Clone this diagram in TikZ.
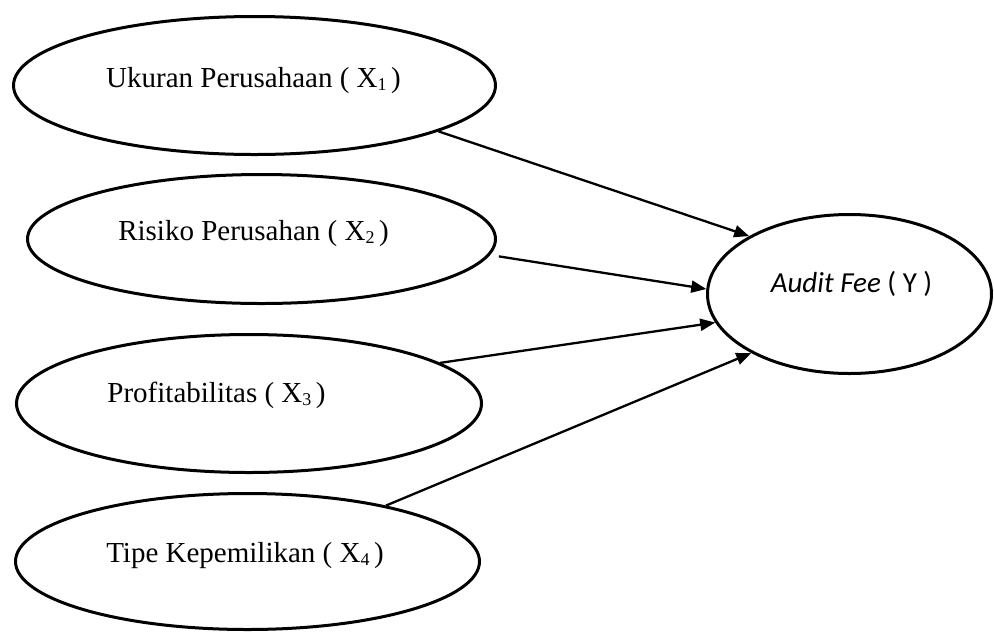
\documentclass[tikz,border=0pt]{standalone}
\usepackage{fontspec}
\setmainfont{Liberation Serif}
\newfontfamily\calibri{Carlito}
\usetikzlibrary{shapes.geometric, arrows.meta}

\newcommand{\xsub}[1]{\raisebox{-3pt}{\fontsize{18}{18}\selectfont #1 }}

\begin{document}
\begin{tikzpicture} [x=1pt, y=-1pt,
        var/.style = {ellipse, draw, line width=3pt, inner sep=0pt},
        lbl/.style = {anchor=base, inner sep=0pt, font=\fontsize{29}{34}\selectfont}]
        \useasboundingbox (0,0) rectangle (994,633);

        \node (x1) [var, minimum width=482pt, minimum height=138pt] at (254.5,85.5) {};
        \node (x2) [var, minimum width=468pt, minimum height=129pt] at (261.5,239) {};
        \node (x3) [var, minimum width=465pt, minimum height=138pt] at (249,403.5) {};
        \node (x4) [var, minimum width=464pt, minimum height=136pt] at (247.5,561.5) {};
        \node (y) [var, minimum width=284pt, minimum height=159pt] at (849.5,294) {};

        \node (t1) [lbl] at ([shift={(-1,1.5)}]x1.center) {Ukuran Perusahaan ( X\xsub{1})};
        \node (t2) [lbl] at ([shift={(-8,1.7)}]x2.center) {Risiko Perusahan ( X\xsub{2})};
        \node (t3) [lbl] at ([shift={(-32.5,-0.8)}]x3.center) {Profitabilitas ( X\xsub{3})};
        \node (t4) [lbl] at ([shift={(-2.5,1.2)}]x4.center) {Tipe Kepemilikan ( X\xsub{4})};
        \node (t5) [lbl, font=\fontsize{29}{34}\selectfont\calibri] at ([shift={(2,-1.3)}]y.center) {\textit{Audit Fee} ( Y )};

        \path [-{Triangle[length=15pt, width=12pt]}, line width=2.3pt] (x1.-14) edge (y.150);
        \path [-{Triangle[length=15pt, width=12pt]}, line width=2.3pt, shorten <=9pt] (x2.-4) edge (y.178);
        \path [-{Triangle[length=15pt, width=12pt]}, line width=2.3pt] (x3.12) edge (y.-168.6);
        \path [-{Triangle[length=15pt, width=12pt]}, line width=2.3pt] (x4.22.6) edge (y.-149.8);

    \end{tikzpicture}
\end{document}
